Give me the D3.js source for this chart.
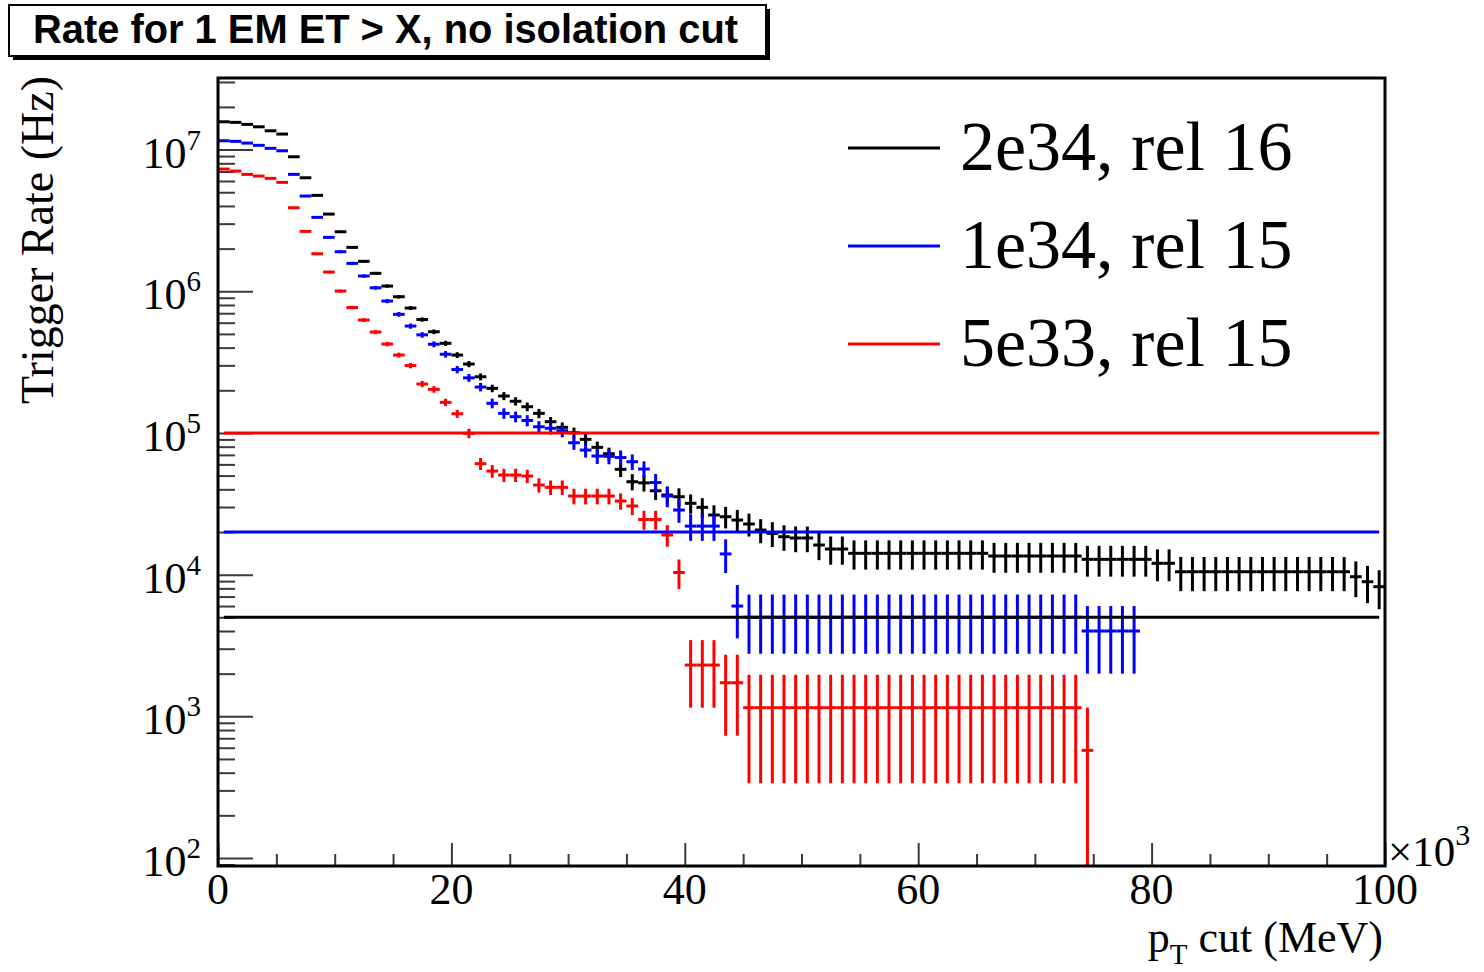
<!DOCTYPE html>
<html>
<head>
<meta charset="utf-8">
<script src="https://cdn.jsdelivr.net/npm/d3@7"></script>
<style>
  html, body { margin: 0; padding: 0; background: #fff; }
  svg { display: block; }
</style>
</head>
<body>
<svg id="chart" width="1484" height="972"></svg>
<script>
// Cumulative single-EM trigger rate (Hz) above a pT threshold, 1 GeV bins from 0 to 100 GeV.
const binWidthMeV = 1000;

const rate2e34rel16 = [
  1.571e7, 1.556e7, 1.506e7, 1.448e7, 1.357e7, 1.287e7, 8.895e6, 6.324e6, 4.751e6, 3.505e6,
  2.629e6, 2.041e6, 1.626e6, 1.338e6, 1.088e6, 9.147e5, 7.610e5, 6.315e5, 5.178e5, 4.290e5,
  3.546e5, 3.064e5, 2.492e5, 2.064e5, 1.822e5, 1.673e5, 1.531e5, 1.375e5, 1.200e5, 1.095e5,
  1.003e5, 9.012e4, 7.912e4, 7.133e4, 5.535e4, 4.525e4, 4.444e4, 3.909e4, 3.645e4, 3.546e4,
  3.186e4, 2.985e4, 2.634e4, 2.562e4, 2.428e4, 2.276e4, 2.064e4, 1.956e4, 1.851e4, 1.813e4,
  1.813e4, 1.618e4, 1.516e4, 1.516e4, 1.414e4, 1.414e4, 1.414e4, 1.414e4, 1.414e4, 1.414e4,
  1.414e4, 1.414e4, 1.414e4, 1.414e4, 1.414e4, 1.414e4, 1.353e4, 1.353e4, 1.353e4, 1.353e4,
  1.353e4, 1.353e4, 1.353e4, 1.353e4, 1.282e4, 1.282e4, 1.282e4, 1.282e4, 1.282e4, 1.282e4,
  1.202e4, 1.202e4, 1.048e4, 1.048e4, 1.048e4, 1.048e4, 1.048e4, 1.048e4, 1.048e4, 1.048e4,
  1.048e4, 1.048e4, 1.048e4, 1.048e4, 1.048e4, 1.048e4, 1.048e4, 9666, 8912, 8218
];

const rate1e34rel15 = [
  1.154e7, 1.143e7, 1.111e7, 1.071e7, 1.020e7, 9.806e6, 6.683e6, 4.698e6, 3.323e6, 2.401e6,
  1.900e6, 1.573e6, 1.281e6, 1.058e6, 8.528e5, 6.871e5, 5.680e5, 4.924e5, 4.227e5, 3.592e5,
  2.802e5, 2.448e5, 2.109e5, 1.618e5, 1.375e5, 1.302e5, 1.224e5, 1.106e5, 1.078e5, 1.036e5,
  8.527e4, 7.574e4, 6.871e4, 6.837e4, 6.706e4, 6.263e4, 5.562e4, 4.467e4, 3.586e4, 2.857e4,
  22000, 22000, 22000, 14000, 6000, 5000, 5000, 5000, 5000, 5000,
  5000, 5000, 5000, 5000, 5000, 5000, 5000, 5000, 5000, 5000,
  5000, 5000, 5000, 5000, 5000, 5000, 5000, 5000, 5000, 5000,
  5000, 5000, 5000, 5000, 4000, 4000, 4000, 4000, 4000
];

const rate5e33rel15 = [
  7.287e6, 7.054e6, 6.683e6, 6.502e6, 6.263e6, 5.868e6, 3.885e6, 2.647e6, 1.839e6, 1.366e6,
  1.003e6, 7.674e5, 6.263e5, 5.153e5, 4.241e5, 3.546e5, 2.990e5, 2.214e5, 2.031e5, 1.644e5,
  1.366e5, 9.936e4, 6.064e4, 5.384e4, 5.046e4, 5.046e4, 4.964e4, 4.289e4, 4.132e4, 4.132e4,
  3.586e4, 3.586e4, 3.586e4, 3.586e4, 3.307e4, 3.050e4, 2.448e4, 2.448e4, 1.904e4, 10350,
  2300, 2300, 2300, 1725, 1725, 1150, 1150, 1150, 1150, 1150,
  1150, 1150, 1150, 1150, 1150, 1150, 1150, 1150, 1150, 1150,
  1150, 1150, 1150, 1150, 1150, 1150, 1150, 1150, 1150, 1150,
  1150, 1150, 1150, 1150, 575
];

// Rate carried by a single simulated event in each sample (Hz), for Poisson error bars.
const eventWeights = [770, 1000, 575];

const seriesLabels = ["2e34, rel 16", "1e34, rel 15", "5e33, rel 15"];
const seriesColors = ["#000000", "#0000ff", "#ff0000"];
const seriesRates = [rate2e34rel16, rate1e34rel15, rate5e33rel15];

// Rate budget for each luminosity (Hz).
const rateLimits = [5e3, 2e4, 1e5];

const xTickValues = [0, 20000, 40000, 60000, 80000, 100000];
const yTickValues = [1e2, 1e3, 1e4, 1e5, 1e6, 1e7];
const titleText = "Rate for 1 EM ET > X, no isolation cut";

// ---------------------------------------------------------------
const svg = d3.select("#chart");
const frame = { left: 218, right: 1385, top: 78, bottom: 866 };

const x = d3.scaleLinear().domain([0, 100000]).range([frame.left, frame.right]);
const y = d3.scaleLog().domain([87.8, 3.2e7]).range([frame.bottom, frame.top]);

svg.append("rect").attr("width", 1484).attr("height", 972).attr("fill", "#fff");

svg.append("clipPath").attr("id", "plotArea")
  .append("rect")
  .attr("x", frame.left).attr("y", frame.top)
  .attr("width", frame.right - frame.left).attr("height", frame.bottom - frame.top);

const serif = "'Liberation Serif', 'Times New Roman', serif";

// Axis ticks (drawn inward from the frame)
const yMinor = [];
for (let e = 1; e <= 7; e++) for (let m = 2; m <= 9; m++) {
  const v = m * Math.pow(10, e);
  if (v > y.domain()[0] && v < y.domain()[1]) yMinor.push(v);
}
const xMinor = d3.range(0, 100001, 5000).filter(v => v % 20000 !== 0);

const yAxis = d3.axisRight(y).tickValues(yTickValues).tickSize(35).tickFormat("");
const yAxisMinor = d3.axisRight(y).tickValues(yMinor).tickSize(17).tickFormat("");
const xAxis = d3.axisTop(x).tickValues(xTickValues).tickSize(23).tickFormat("");
const xAxisMinor = d3.axisTop(x).tickValues(xMinor).tickSize(12).tickFormat("");

function styleTicks(g) {
  g.select(".domain").remove();
  g.selectAll(".tick line").attr("stroke", "#3a3a3a").attr("stroke-width", 2);
}
svg.append("g").attr("transform", `translate(${frame.left},0)`).call(yAxis).call(styleTicks);
svg.append("g").attr("transform", `translate(${frame.left},0)`).call(yAxisMinor).call(styleTicks);
svg.append("g").attr("transform", `translate(0,${frame.bottom})`).call(xAxis).call(styleTicks);
svg.append("g").attr("transform", `translate(0,${frame.bottom})`).call(xAxisMinor).call(styleTicks);

// Histograms: horizontal bar across each bin plus vertical Poisson error bar
const plot = svg.append("g").attr("clip-path", "url(#plotArea)");

seriesRates.forEach((rates, s) => {
  const w = eventWeights[s];
  const bins = rates.map((v, i) => {
    const err = Math.sqrt(v * w);
    return {
      lo: i * binWidthMeV,
      hi: (i + 1) * binWidthMeV,
      mid: (i + 0.5) * binWidthMeV,
      v,
      up: v + err,
      down: Math.max(v - err, y.domain()[0])
    };
  });
  const g = plot.append("g")
    .attr("stroke", seriesColors[s])
    .attr("stroke-width", 3)
    .attr("fill", "none");
  g.selectAll("line.h").data(bins).join("line")
    .attr("class", "h")
    .attr("x1", d => x(d.lo)).attr("x2", d => x(d.hi))
    .attr("y1", d => y(d.v)).attr("y2", d => y(d.v));
  g.selectAll("line.v").data(bins).join("line")
    .attr("class", "v")
    .attr("x1", d => x(d.mid)).attr("x2", d => x(d.mid))
    .attr("y1", d => y(d.up)).attr("y2", d => y(d.down));
});

// Rate limit lines
rateLimits.forEach((r, s) => {
  plot.append("line")
    .attr("x1", x(500)).attr("x2", x(99500))
    .attr("y1", y(r)).attr("y2", y(r))
    .attr("stroke", seriesColors[s])
    .attr("stroke-width", 3);
});

// Frame
svg.append("rect")
  .attr("x", frame.left).attr("y", frame.top)
  .attr("width", frame.right - frame.left).attr("height", frame.bottom - frame.top)
  .attr("fill", "none").attr("stroke", "#000").attr("stroke-width", 3);

// Y tick labels 10^n
yTickValues.forEach(v => {
  const t = svg.append("text")
    .attr("x", 201).attr("y", y(v) + 18)
    .attr("text-anchor", "end")
    .attr("font-family", serif).attr("font-size", 44).attr("fill", "#000");
  t.append("tspan").text("10");
  t.append("tspan").attr("dy", -18).attr("font-size", 29).text(Math.round(Math.log10(v)));
});

// X tick labels (in units of 10^3 MeV)
svg.selectAll("text.xtick").data(xTickValues).join("text")
  .attr("class", "xtick")
  .attr("x", d => x(d)).attr("y", 904)
  .attr("text-anchor", "middle")
  .attr("font-family", serif).attr("font-size", 44).attr("fill", "#000")
  .text(d => d / 1000);

// Exponent marker for the x axis
const xe = svg.append("text")
  .attr("x", 1388).attr("y", 866)
  .attr("font-family", serif).attr("font-size", 43).attr("fill", "#000");
xe.append("tspan").text("\u00d710");
xe.append("tspan").attr("dy", -21).attr("font-size", 30).text("3");

// Axis titles
const xt = svg.append("text")
  .attr("x", 1383).attr("y", 952)
  .attr("text-anchor", "end")
  .attr("font-family", serif).attr("font-size", 44).attr("fill", "#000");
xt.append("tspan").text("p");
xt.append("tspan").attr("dy", 12).attr("font-size", 29).text("T");
xt.append("tspan").attr("dy", -12).text(" cut (MeV)");

svg.append("text")
  .attr("transform", "translate(53,76) rotate(-90)")
  .attr("text-anchor", "end")
  .attr("font-family", serif).attr("font-size", 46).attr("fill", "#000")
  .text("Trigger Rate (Hz)");

// Legend
const legend = svg.append("g");
seriesLabels.forEach((label, s) => {
  const ly = 148 + s * 98;
  legend.append("line")
    .attr("x1", 848).attr("x2", 940).attr("y1", ly).attr("y2", ly)
    .attr("stroke", seriesColors[s]).attr("stroke-width", 3);
  legend.append("text")
    .attr("x", 960).attr("y", ly + 22)
    .attr("font-family", serif).attr("font-size", 70).attr("fill", "#000")
    .text(label);
});

// Title box with drop shadow
svg.append("rect").attr("x", 13).attr("y", 9).attr("width", 757).attr("height", 51).attr("fill", "#000");
svg.append("rect").attr("x", 9).attr("y", 5).attr("width", 757).attr("height", 51)
  .attr("fill", "#fff").attr("stroke", "#000").attr("stroke-width", 2);
svg.append("text")
  .attr("x", 33).attr("y", 43)
  .attr("font-family", "'Liberation Sans', Arial, sans-serif")
  .attr("font-weight", "bold").attr("font-size", 40).attr("fill", "#000")
  .attr("textLength", 705).attr("lengthAdjust", "spacingAndGlyphs")
  .text(titleText);
</script>
</body>
</html>
